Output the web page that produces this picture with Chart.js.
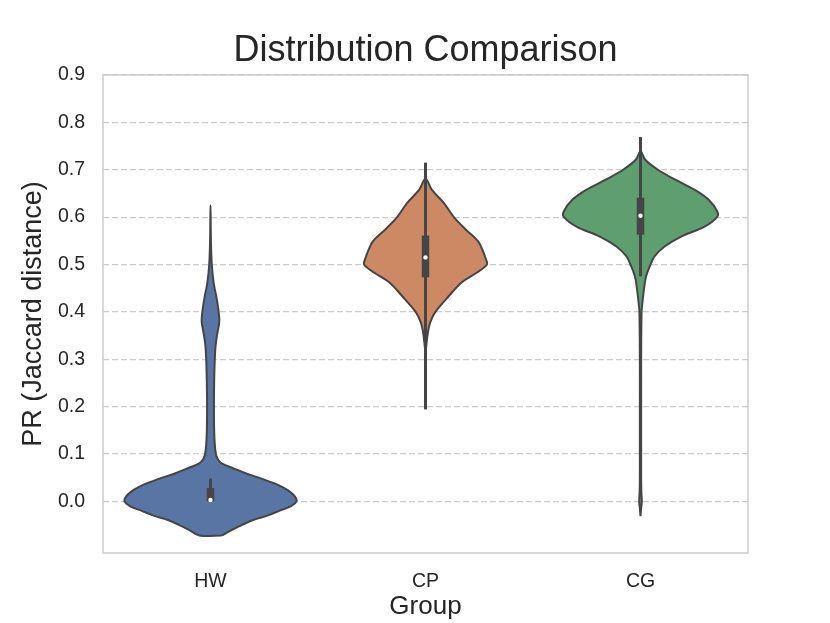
<!DOCTYPE html>
<html>
<head>
<meta charset="utf-8">
<script src="https://cdn.jsdelivr.net/npm/chart.js@4.4.1/dist/chart.umd.min.js"></script>
<style>html,body{margin:0;padding:0;background:#fff;}canvas{display:block;}</style>
</head>
<body>
<canvas id="c" width="830" height="623"></canvas>
<script>
// ---- data ----
const categories = ['HW', 'CP', 'CG'];
const yTicks = [0.0, 0.1, 0.2, 0.3, 0.4, 0.5, 0.6, 0.7, 0.8, 0.9];

// violin outlines: value levels and density half-widths (in group-width units)
const hwLevels = [-0.072, -0.06, -0.05, -0.04, -0.03, -0.02, -0.01, 0.0, 0.01, 0.02, 0.03, 0.04, 0.05, 0.06, 0.07, 0.08, 0.09, 0.10, 0.12, 0.15, 0.20, 0.25, 0.30, 0.33, 0.355, 0.38, 0.41, 0.435, 0.46, 0.50, 0.55, 0.625];
const hwHalf   = [0.052, 0.10, 0.145, 0.195, 0.265, 0.32, 0.375, 0.40, 0.393, 0.37, 0.335, 0.285, 0.225, 0.16, 0.105, 0.052, 0.033, 0.025, 0.02, 0.017, 0.016, 0.017, 0.02, 0.024, 0.032, 0.041, 0.035, 0.026, 0.015, 0.006, 0.002, 0];

const cpLevels = [0.31, 0.33, 0.356, 0.378, 0.40, 0.433, 0.462, 0.483, 0.50, 0.51, 0.532, 0.549, 0.574, 0.60, 0.63, 0.658, 0.681];
const cpHalf   = [0, 0.004, 0.011, 0.022, 0.046, 0.108, 0.168, 0.24, 0.286, 0.282, 0.264, 0.245, 0.187, 0.132, 0.085, 0.029, 0];

const cgLevels = [-0.031, -0.015, 0.0, 0.02, 0.05, 0.1, 0.2, 0.3, 0.4, 0.42, 0.447, 0.475, 0.5, 0.517, 0.538, 0.559, 0.58, 0.6, 0.612, 0.637, 0.658, 0.679, 0.70, 0.721, 0.739];
const cgHalf   = [0, 0.003, 0.006, 0.004, 0.003, 0.003, 0.003, 0.003, 0.005, 0.009, 0.016, 0.026, 0.047, 0.065, 0.112, 0.189, 0.298, 0.356, 0.357, 0.316, 0.251, 0.162, 0.081, 0.022, 0];

// inner box statistics
const whiskerLow  = [0.0, 0.194, 0.475];
const whiskerHigh = [0.048, 0.715, 0.769];
const boxLow      = [0.0, 0.473, 0.563];
const boxHigh     = [0.028, 0.561, 0.641];
const medians     = [0.003, 0.515, 0.603];

// ---- styles ----
const fillColors = ['#5875A4', '#CC8963', '#5F9E6E'];
const lineGray = '#454545';
const textColor = '#262626';
const FONT = '"Liberation Sans", Arial, Helvetica, sans-serif';

function outline(idx, levels, half) {
  const right = levels.map((v, i) => ({x: idx + half[i], y: v}));
  const left = [];
  for (let i = levels.length - 2; i >= 0; i--) left.push({x: idx - half[i], y: levels[i]});
  const pts = right.concat(left);
  pts.push({x: right[0].x, y: right[0].y});
  return pts;
}

const profiles = [[hwLevels, hwHalf], [cpLevels, cpHalf], [cgLevels, cgHalf]];
const datasets = [];
profiles.forEach((p, i) => {
  datasets.push({
    data: outline(i, p[0], p[1]),
    showLine: true, pointRadius: 0, borderColor: lineGray, borderWidth: 2,
    backgroundColor: fillColors[i], fill: 'shape', tension: 0.35, order: 3
  });
});
categories.forEach((c, i) => {
  datasets.push({
    data: [{x: i, y: whiskerLow[i]}, {x: i, y: whiskerHigh[i]}],
    showLine: true, pointRadius: 0, borderColor: lineGray, borderWidth: 3, fill: false, tension: 0, order: 2
  });
  datasets.push({
    data: [{x: i, y: boxLow[i]}, {x: i, y: boxHigh[i]}],
    showLine: true, pointRadius: 0, borderColor: lineGray, borderWidth: 7.5, fill: false, tension: 0, order: 1
  });
});
datasets.push({
  data: medians.map((m, i) => ({x: i, y: m})),
  showLine: false, pointRadius: 2.2, pointBorderWidth: 0,
  pointBackgroundColor: '#ffffff', backgroundColor: '#ffffff', order: 0
});

const frame = {
  id: 'frame',
  beforeDatasetsDraw(chart) {
    const {ctx, chartArea: a} = chart;
    ctx.save();
    ctx.strokeStyle = '#cccccc';
    ctx.lineWidth = 1.5;
    ctx.strokeRect(a.left, a.top, a.right - a.left, a.bottom - a.top);
    ctx.restore();
  }
};

new Chart(document.getElementById('c'), {
  type: 'scatter',
  data: {datasets},
  plugins: [frame],
  options: {
    responsive: false,
    animation: false,
    devicePixelRatio: 1,
    layout: {padding: {left: 0, right: 82, top: 0, bottom: 0}},
    plugins: {
      legend: {display: false},
      tooltip: {enabled: false},
      title: {
        display: true, text: 'Distribution Comparison', color: textColor, fullSize: false,
        font: {family: FONT, size: 36, weight: 'normal'},
        padding: {top: 29.2, bottom: 2.6}
      }
    },
    scales: {
      x: {
        type: 'linear', min: -0.5, max: 2.5,
        afterBuildTicks: s => { s.ticks = categories.map((c, i) => ({value: i})); },
        afterFit: s => { s.height = 70; },
        ticks: {
          callback: v => categories[v], color: textColor, padding: 8.5,
          font: {family: FONT, size: 19.5}, maxRotation: 0, autoSkip: false
        },
        grid: {display: false},
        border: {display: false},
        title: {
          display: true, text: 'Group', color: textColor,
          font: {family: FONT, size: 26}, padding: {top: 0, bottom: 0.5}
        }
      },
      y: {
        type: 'linear', min: -0.109, max: 0.9,
        afterBuildTicks: s => { s.ticks = yTicks.map(v => ({value: v})); },
        afterFit: s => { s.width = 103; },
        ticks: {
          callback: v => Number(v).toFixed(1), color: textColor, padding: 18,
          font: {family: FONT, size: 19.5}
        },
        grid: {color: '#cccccc', lineWidth: 1.2, drawTicks: false},
        border: {display: false, dash: [6, 3]},
        title: {
          display: true, text: 'PR (Jaccard distance)', color: textColor,
          font: {family: FONT, size: 27}, padding: {top: 17, bottom: 0}
        }
      }
    }
  }
});
</script>
</body>
</html>
